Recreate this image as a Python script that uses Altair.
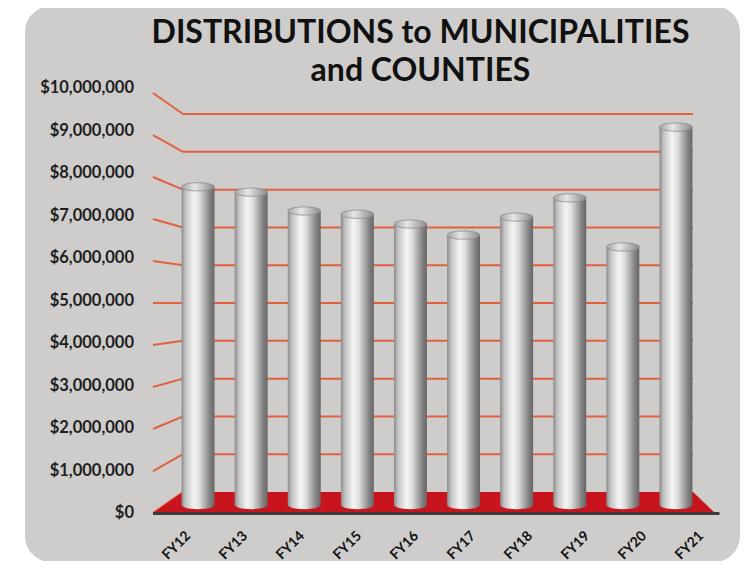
import altair as alt
import pandas as pd

# ---- data ----
years = ["FY12", "FY13", "FY14", "FY15", "FY16", "FY17", "FY18", "FY19", "FY20", "FY21"]
amounts = [7780000, 7650000, 7190000, 7110000, 6870000, 6600000, 7040000, 7510000, 6310000, 9240000]
tick_values = [0, 1000000, 2000000, 3000000, 4000000, 5000000,
               6000000, 7000000, 8000000, 9000000, 10000000]
title_lines = ["DISTRIBUTIONS to MUNICIPALITIES", "and COUNTIES"]

# ---- layout / pseudo-3D geometry ----
W, H = 531, 412
yscale = alt.Scale(domain=[-600000, 10300000], nice=False, zero=False)

df = pd.DataFrame({"year": years, "amount": amounts, "idx": list(range(len(years)))})
ticks_df = pd.DataFrame({"v": tick_values})
one = pd.DataFrame({"k": [0]})

front_expr = "(42*datum.v - 21000000)/37.8"
label_expr = "(42.5*datum.v - 21000000)/37.8"

bar_grad = alt.LinearGradient(
    gradient="linear", x1=0, x2=1, y1=0, y2=0,
    stops=[alt.GradientStop(offset=0, color="#8a8a8a"),
           alt.GradientStop(offset=0.12, color="#c2c2c2"),
           alt.GradientStop(offset=0.38, color="#f5f5f5"),
           alt.GradientStop(offset=0.55, color="#dedede"),
           alt.GradientStop(offset=0.85, color="#858585"),
           alt.GradientStop(offset=1, color="#666666")])
cap_grad = alt.LinearGradient(
    gradient="linear", x1=0, x2=1, y1=0, y2=0,
    stops=[alt.GradientStop(offset=0, color="#a4a4a4"),
           alt.GradientStop(offset=0.4, color="#e6e6e6"),
           alt.GradientStop(offset=1, color="#8a8a8a")])
ellipse = "M-1,0A1,0.25,0,1,0,1,0A1,0.25,0,1,0,-1,0Z"
floor_shape = "M-1,0.0374L-0.893,-0.0374L0.922,-0.0374L1,0.0374Z"

card = alt.Chart(one).mark_rect(color="#cecdcb", cornerRadius=26).encode(
    x=alt.value(-146.5), x2=alt.value(568.5), y=alt.value(-96.7), y2=alt.value(459.3))

title = alt.Chart(one).mark_text(
    text=title_lines, font="Lato", fontWeight="bold", fontSize=32, lineHeight=38,
    align="center", baseline="alphabetic", color="#111111").encode(
    x=alt.value(249), y=alt.value(-60))

grid = alt.Chart(ticks_df).transform_filter("datum.v > 0").mark_rule(
    color="#e2603f", strokeWidth=2).encode(
    y=alt.Y("v:Q", scale=yscale, axis=None), x=alt.value(11.5), x2=alt.value(521.5))

slant = alt.Chart(ticks_df).transform_calculate(front=front_expr).mark_rule(
    color="#e2603f", strokeWidth=2).encode(
    x=alt.value(-18.5), x2=alt.value(11.5),
    y=alt.Y("front:Q", scale=yscale, axis=None), y2="v:Q")

ylabels = alt.Chart(ticks_df).transform_calculate(lab=label_expr).mark_text(
    align="right", baseline="middle", font="Lato", fontWeight="bold", fontSize=16.5,
    color="#1e1e1e").encode(
    x=alt.value(-37.5), y=alt.Y("lab:Q", scale=yscale, axis=None),
    text=alt.Text("v:Q", format="$,.0f"))

floor = alt.Chart(one).mark_point(shape=floor_shape, size=315844, filled=True,
                                  fill="#c8151d", opacity=1, strokeWidth=0).encode(
    x=alt.value(262.5), y=alt.value(399.8))

edge = alt.Chart(one).mark_rule(color="#3b3b3b", strokeWidth=3).encode(
    x=alt.value(-18.5), x2=alt.value(548), y=alt.value(410.8))

base = alt.Chart(df).transform_calculate(
    top="(40.9*datum.amount - 13000000)/37.8", base="-13000000/37.8",
    lx="17 + 57*datum.idx")

xenc = alt.X("year:N", sort=years, axis=None,
             scale=alt.Scale(paddingInner=0.38, paddingOuter=0.19))

bars = base.mark_bar(color=bar_grad).encode(
    x=xenc, y=alt.Y("base:Q", scale=yscale, axis=None), y2="top:Q")
bottoms = base.mark_point(shape=ellipse, size=1089, filled=True, fill=bar_grad,
                          opacity=1, strokeWidth=0).encode(
    x=xenc, y=alt.Y("base:Q", scale=yscale, axis=None))
caps = base.mark_point(shape=ellipse, size=1089, filled=True, fill=cap_grad,
                       stroke="#8c8c8c", strokeWidth=0.8, opacity=1).encode(
    x=xenc, y=alt.Y("top:Q", scale=yscale, axis=None))

# year labels sit on the front edge of the floor (perspective spacing)
xlabels = base.mark_text(angle=315, align="right", baseline="middle", font="Lato",
                         fontWeight="bold", fontSize=14, color="#111111").encode(
    x=alt.X("lx:Q", scale=alt.Scale(domain=[0, W], range=[0, W], nice=False, zero=False),
            axis=None),
    y=alt.value(431.3), text="year:N")

chart = alt.layer(card, title, grid, slant, ylabels, floor, edge,
                  bottoms, bars, caps, xlabels).resolve_scale(x="independent").properties(
    width=W, height=H, autosize="none", background="white",
    padding={"left": 163.5, "top": 94.7, "right": 40.5, "bottom": 46.3}
).configure_view(strokeWidth=0)

chart.save("out.html", embed_options={"renderer": "svg", "actions": False})
